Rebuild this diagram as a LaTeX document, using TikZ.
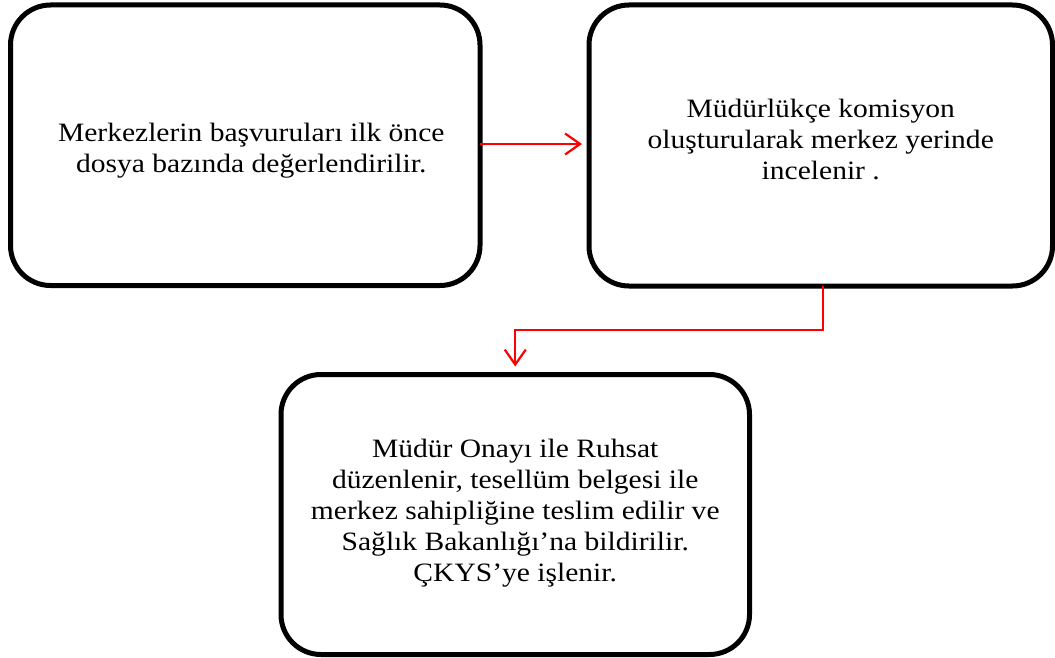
\documentclass[tikz,border=0pt]{standalone}
\usepackage{fontspec}
\setmainfont[FakeStretch=1.115]{Liberation Serif}
\usetikzlibrary{arrows.meta}
\begin{document}
\begin{tikzpicture}[x=1pt,y=-1pt,
  stepbox/.style={draw=black, line width=5pt, rounded corners=40pt, outer sep=0pt, inner sep=0pt},
  steptext/.style={align=center, inner sep=0pt, font=\fontsize{26.5}{31}\selectfont},
  flow/.style={draw=red, line width=2.2pt, -{Straight Barb[length=15pt,width=21pt]}}]
\useasboundingbox (0,0) rectangle (1055,658);

% process steps
\node[stepbox, minimum width=469.5pt, minimum height=280.5pt] (b1) at (245.25,145.25) {};
\node[stepbox, minimum width=463.5pt, minimum height=281pt] (b2) at (820.75,145.5) {};
\node[stepbox, minimum width=468.5pt, minimum height=280pt] (b3) at (515.25,514.5) {};

% step texts (shifts are in page units: positive yshift moves up)
\node[steptext] (t1) at ([xshift=6pt,yshift=-5pt]b1.center)
  {Merkezlerin başvuruları ilk önce\\dosya bazında değerlendirilir.};
\node[steptext] (t2) at ([yshift=6.5pt]b2.center)
  {Müdürlükçe komisyon\\oluşturularak merkez yerinde\\incelenir .};
\node[steptext] (t3) at ([yshift=1pt]b3.center)
  {Müdür Onayı ile Ruhsat\\düzenlenir, tesellüm belgesi ile\\merkez sahipliğine teslim edilir ve\\Sağlık Bakanlığı’na bildirilir.\\ÇKYS’ye işlenir.};

% connectors
\coordinate (turn) at (515.25,330);
\draw[flow, shorten >=7pt] (b1.east |- 0,144) -- (b2.west |- 0,144);
\draw[flow, shorten >=8pt] ([xshift=2pt]b2.south) |- (turn) -- (b3.north);
\end{tikzpicture}
\end{document}
